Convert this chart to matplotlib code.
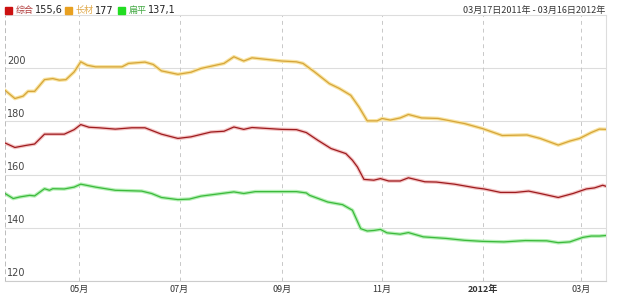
import matplotlib
matplotlib.use("Agg")
import matplotlib.pyplot as plt
import pandas as pd

plt.rcParams['font.family'] = ['Noto Sans CJK SC', 'DejaVu Sans']

# 长材 (orange)
long_dates = ["2011-03-17", "2011-03-23", "2011-03-28", "2011-03-31", "2011-04-04", "2011-04-10",
              "2011-04-15", "2011-04-19", "2011-04-23", "2011-04-28", "2011-05-02", "2011-05-06",
              "2011-05-11", "2011-05-27", "2011-05-31", "2011-06-10", "2011-06-15", "2011-06-20",
              "2011-06-30", "2011-07-08", "2011-07-14", "2011-07-25", "2011-07-28", "2011-08-03",
              "2011-08-09", "2011-08-14", "2011-08-20", "2011-09-01", "2011-09-10", "2011-09-14",
              "2011-09-21", "2011-09-30", "2011-10-06", "2011-10-13", "2011-10-18", "2011-10-23",
              "2011-10-29", "2011-11-01", "2011-11-06", "2011-11-12", "2011-11-17", "2011-11-25",
              "2011-12-05", "2011-12-21", "2012-01-01", "2012-01-13", "2012-01-28", "2012-02-05",
              "2012-02-16", "2012-02-23", "2012-02-29", "2012-03-07", "2012-03-12", "2012-03-16"]
long_vals = [191.7, 188.6, 189.5, 191.3, 191.3, 195.7, 196.1, 195.5, 195.7, 198.6, 202.4, 201.1,
             200.5, 200.5, 201.8, 202.3, 201.4, 199.0, 197.7, 198.5, 199.9, 201.4, 201.8, 204.3,
             202.7, 203.9, 203.5, 202.7, 202.4, 201.8, 198.6, 194.2, 192.4, 189.8, 185.4, 180.2,
             180.2, 181.1, 180.5, 181.3, 182.6, 181.3, 181.1, 179.2, 177.3, 174.7, 174.9, 173.6,
             171.1, 172.6, 173.6, 175.8, 177.1, 177.0]

# 综合 (red)
comp_dates = ["2011-03-17", "2011-03-23", "2011-03-30", "2011-04-04", "2011-04-10", "2011-04-15",
              "2011-04-22", "2011-04-28", "2011-05-02", "2011-05-07", "2011-05-13", "2011-05-23",
              "2011-06-02", "2011-06-10", "2011-06-20", "2011-06-30", "2011-07-08", "2011-07-20",
              "2011-07-28", "2011-08-03", "2011-08-09", "2011-08-14", "2011-09-01", "2011-09-10",
              "2011-09-16", "2011-09-23", "2011-10-01", "2011-10-10", "2011-10-14", "2011-10-17",
              "2011-10-21", "2011-10-27", "2011-10-31", "2011-11-05", "2011-11-12", "2011-11-17",
              "2011-11-27", "2011-12-04", "2011-12-15", "2011-12-28", "2012-01-02", "2012-01-12",
              "2012-01-21", "2012-01-29", "2012-02-05", "2012-02-16", "2012-02-25", "2012-03-04",
              "2012-03-09", "2012-03-14", "2012-03-16"]
comp_vals = [171.9, 170.2, 171.0, 171.5, 175.2, 175.2, 175.2, 176.9, 178.8, 177.8, 177.6, 177.1,
             177.6, 177.6, 175.2, 173.6, 174.2, 176.0, 176.3, 177.9, 177.0, 177.7, 177.0, 176.9,
             175.8, 172.9, 169.8, 167.9, 165.4, 162.9, 158.2, 157.9, 158.5, 157.6, 157.6, 158.8,
             157.3, 157.2, 156.4, 155.0, 154.6, 153.3, 153.3, 153.8, 152.9, 151.4, 152.9, 154.6,
             155.0, 156.0, 155.6]

# 扁平 (green)
flat_dates = ["2011-03-17", "2011-03-22", "2011-03-26", "2011-04-01", "2011-04-04", "2011-04-10",
              "2011-04-13", "2011-04-15", "2011-04-22", "2011-04-28", "2011-05-02", "2011-05-11",
              "2011-05-23", "2011-06-08", "2011-06-14", "2011-06-20", "2011-06-30", "2011-07-07",
              "2011-07-14", "2011-07-29", "2011-08-03", "2011-08-09", "2011-08-16", "2011-09-10",
              "2011-09-16", "2011-09-18", "2011-09-29", "2011-10-08", "2011-10-14", "2011-10-19",
              "2011-10-23", "2011-10-27", "2011-10-31", "2011-11-04", "2011-11-12", "2011-11-17",
              "2011-11-26", "2011-12-10", "2011-12-21", "2012-01-01", "2012-01-14", "2012-01-27",
              "2012-02-09", "2012-02-16", "2012-02-23", "2012-03-02", "2012-03-07", "2012-03-12",
              "2012-03-16"]
flat_vals = [152.9, 151.0, 151.6, 152.2, 152.0, 154.7, 154.1, 154.7, 154.6, 155.3, 156.4, 155.3,
             154.1, 153.8, 152.9, 151.4, 150.6, 150.8, 151.9, 153.1, 153.5, 152.9, 153.6, 153.6,
             153.1, 152.2, 149.7, 148.7, 146.6, 139.7, 138.8, 139.0, 139.4, 138.1, 137.6, 138.2,
             136.6, 136.0, 135.3, 134.9, 134.7, 135.2, 135.1, 134.4, 134.7, 136.4, 136.9, 136.9,
             137.1]

tick_dates = ["2011-05-01", "2011-07-01", "2011-09-01", "2011-11-01", "2012-01-01", "2012-03-01"]
tick_labels = ["05月", "07月", "09月", "11月", "2012年", "03月"]
y_ticks = [120, 140, 160, 180, 200]

series = [
    (long_dates, long_vals, "#d6a53a", "#f8e3a0"),
    (comp_dates, comp_vals, "#9e1b1e", "#f3c4c4"),
    (flat_dates, flat_vals, "#3cb93c", "#b6f0b6"),
]

fig = plt.figure(figsize=(6.17, 2.98), dpi=100)
ax = fig.add_axes([5/617, 17/298, 601/617, 266/298])

for d, v, c, glow in series:
    dd = pd.to_datetime(d)
    ax.plot(dd, v, color=glow, lw=2.6, solid_capstyle='round', zorder=2)
    ax.plot(dd, v, color=c, lw=0.9, zorder=3)

ax.set_xlim(pd.Timestamp("2011-03-17"), pd.Timestamp("2012-03-16"))
ax.set_ylim(120, 220)

# grid
for y in y_ticks:
    ax.axhline(y, color="#dddddd", lw=0.8, zorder=1)
    ax.text(0.004, y + 1.0, str(y), transform=ax.get_yaxis_transform(),
            fontsize=7, color="#444444", va="bottom", ha="left", family="DejaVu Sans")
td = pd.to_datetime(tick_dates)
for t in td:
    ax.axvline(t, color="#c8c8c8", lw=0.7, ls=(0, (4, 4)), zorder=1)
ax.set_yticks([])
ax.set_xticks(td)
ax.set_xticklabels(tick_labels, fontsize=6.5, color="#333333")
for lbl in ax.get_xticklabels():
    if lbl.get_text() == "2012年":
        lbl.set_fontweight("bold")
ax.tick_params(axis='x', length=0, pad=3)

for s in ["top", "right"]:
    ax.spines[s].set_color("#dddddd")
    ax.spines[s].set_linewidth(0.8)
ax.spines["bottom"].set_color("#cccccc")
ax.spines["left"].set_color("#bbbbbb")
ax.spines["left"].set_linestyle((0, (4, 4)))
ax.spines["left"].set_linewidth(0.7)

# legend across the top
legend_items = [("综合", "#cc1111", "#b03a3a", "155,6"),
                ("长材", "#e8a020", "#e0a848", "177"),
                ("扁平", "#22dd22", "#44aa44", "137,1")]
x0 = [5, 65, 118]
for (name, sq, tc, val), x in zip(legend_items, x0):
    fig.patches.append(plt.Rectangle((x/617, 284/298), 7/617, 7/298, color=sq,
                                     transform=fig.transFigure, figure=fig))
    fig.text((x + 11)/617, 287.5/298, name, fontsize=6.5, color=tc, va="center")
    fig.text((x + 30)/617, 287.5/298, val, fontsize=7, color="#222222", va="center",
             family="DejaVu Sans")

fig.text(605/617, 287.5/298, "03月17日2011年 - 03月16日2012年", fontsize=6.5,
         color="#333333", ha="right", va="center")

fig.savefig("out.png", dpi=100, facecolor="white")
